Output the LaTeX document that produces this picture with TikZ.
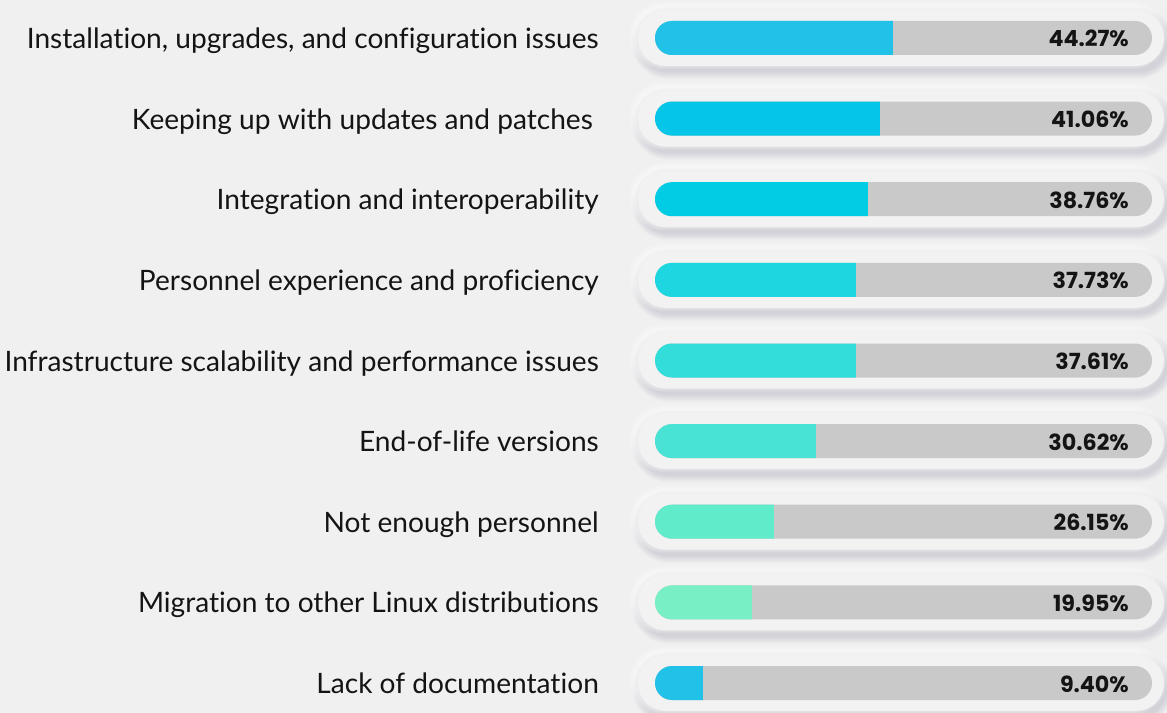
\documentclass[tikz,border=0pt]{standalone}
\usepackage{fontspec}
\setmainfont{Lato}[Ligatures=NoCommon]
\newfontfamily\numfont{Poppins}
\definecolor{bg}{HTML}{F0F0F0}
\definecolor{pill}{HTML}{F2F2F2}
\definecolor{track}{HTML}{C9C9C9}
\definecolor{ink}{HTML}{141414}
\definecolor{sh}{HTML}{404060}
\definecolor{c1}{HTML}{21C1E8}
\definecolor{c2}{HTML}{05C6E6}
\definecolor{c3}{HTML}{00CDE3}
\definecolor{c4}{HTML}{1DD6E0}
\definecolor{c5}{HTML}{33DDD9}
\definecolor{c6}{HTML}{48E3D4}
\definecolor{c7}{HTML}{60EBCB}
\definecolor{c8}{HTML}{79EFC5}
\definecolor{c9}{HTML}{21C1E8}
\tikzset{
  labeltext/.style={anchor=base east, inner sep=0pt, text=ink, font=\fontsize{28.2}{31}\selectfont},
  valuetext/.style={anchor=base east, inner sep=0pt, text=ink, font=\numfont\bfseries\fontsize{22.3}{26}\selectfont},
}
\begin{document}
\begin{tikzpicture}[x=1bp,y=-1bp]
\useasboundingbox (0,0) rectangle (1167,713);
\fill[bg] (0,0) rectangle (1167,713);
\foreach \c/\lab/\val/\e/\col [count=\i] in {
  38/{Installation, upgrades, and configuration issues}/44.27/893/c1,
  118.6/{Keeping up with updates and patches\kern6bp}/41.06/880/c2,
  199.2/{Integration and interoperability}/38.76/868/c3,
  279.9/{Personnel experience and proficiency}/37.73/856/c4,
  360.5/{Infrastructure scalability and performance issues}/37.61/856/c5,
  441.1/{End-of-life versions}/30.62/816/c6,
  521.7/{Not enough personnel}/26.15/774/c7,
  602.4/{Migration to other Linux distributions}/19.95/752/c8,
  683/{Lack of documentation}/9.40/703/c9}{
  % soft drop shadow
  \foreach \k in {1,...,8}{
    \fill[sh, opacity=0.02, rounded corners=28+\k]
      (638-\k+2, \c-28-\k+5) rectangle (1164+\k+2, \c+28+\k+5);
  }
  % light highlight
  \foreach \k in {1,...,6}{
    \fill[white, opacity=0.12, rounded corners=28+\k]
      (638-\k-3, \c-28-\k-3) rectangle (1164+\k-3, \c+28+\k-3);
  }
  \fill[pill, rounded corners=28] (638, \c-28) rectangle (1164, \c+28);
  \fill[track, rounded corners=17] (655, \c-17) rectangle (1152, \c+17);
  \begin{scope}
    \clip[rounded corners=17] (655, \c-17) rectangle (1152, \c+17);
    \fill[\col] (655, \c-18) rectangle (\e, \c+18);
  \end{scope}
  \node[labeltext] (lab\i) at (599, \c+10.5) {\lab};
  \node[valuetext] (val\i) at (1129, \c+9) {\val\%};
}
\end{tikzpicture}
\end{document}
